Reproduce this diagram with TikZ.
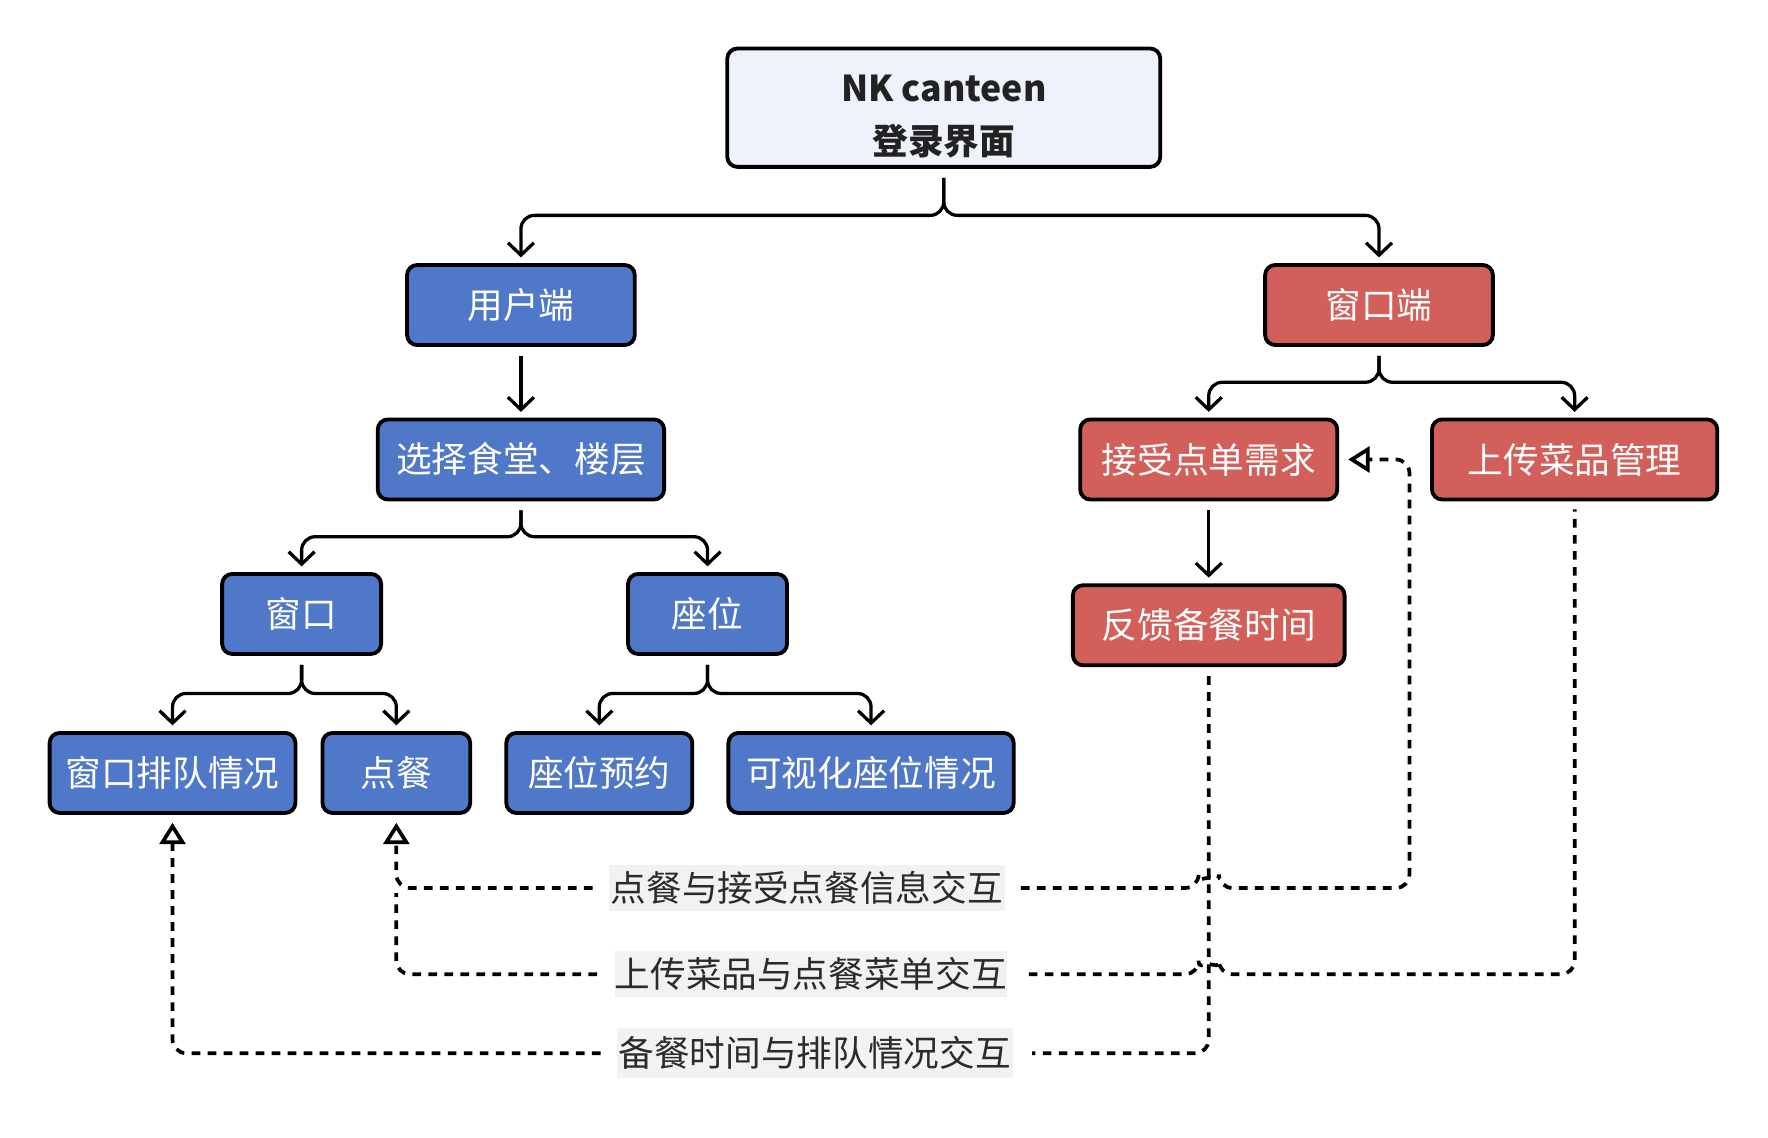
\documentclass[tikz,border=0pt]{standalone}
\usepackage{fontspec}
\setmainfont{Noto Sans CJK SC}
\usetikzlibrary{arrows.meta,calc}
\definecolor{ublue}{HTML}{5078C8}
\definecolor{wred}{HTML}{D35F5A}
\definecolor{topfill}{HTML}{EEF2FB}
\definecolor{lblbg}{HTML}{F1F2F4}
\definecolor{lbltext}{HTML}{2B2B2B}
\definecolor{toptext}{HTML}{222222}
\tikzset{
 box/.style={draw=black, line width=1.7pt, rounded corners=4.5pt, minimum height=35.5pt, inner sep=0pt, text=white, font=\fontsize{15.8}{19}\selectfont},
 ubox/.style={box, fill=ublue},
 wbox/.style={box, fill=wred},
 lbl/.style={fill=lblbg, text=lbltext, inner sep=0pt, minimum height=20.5pt, font=\fontsize{15.8}{19}\selectfont},
 conn/.style={line width=1.45pt, rounded corners=6pt, -{Straight Barb[length=5.5pt,width=11.5pt]}, shorten <=4pt, shorten >=2.5pt},
 dsh/.style={line width=1.65pt, dash pattern=on 3.85pt off 3.25pt, rounded corners=6pt},
 dtip/.style={-{Triangle[open,length=9.5pt,width=11.5pt]}},
}
\begin{document}
\begin{tikzpicture}[x=0.5pt,y=-0.5pt]
\useasboundingbox (0,0) rectangle (1568,1009);
% nodes
\node[box, fill=topfill, minimum width=192pt, minimum height=52.5pt] (top) at (837,95.5) {};
\node[align=center, text=toptext, inner sep=0pt, font=\fontsize{15.8}{23.5}\selectfont\bfseries] (toptxt) at (837,103.5) {NK canteen\\登录界面};
\node[ubox, minimum width=101pt] (user) at (462,270.5) {用户端};
\node[wbox, minimum width=101pt] (wend) at (1223,270.5) {窗口端};
\node[ubox, minimum width=127pt] (sel) at (462,407.5) {选择食堂、楼层};
\node[ubox, minimum width=70.5pt] (win) at (267.5,544.5) {窗口};
\node[ubox, minimum width=70.5pt] (seat) at (627.5,544.5) {座位};
\node[ubox, minimum width=109pt] (queue) at (153,685.5) {窗口排队情况};
\node[ubox, minimum width=65.5pt] (order) at (351.5,685.5) {点餐};
\node[ubox, minimum width=82.5pt] (resv) at (531.5,685.5) {座位预约};
\node[ubox, minimum width=126.5pt] (vis) at (772.5,685.5) {可视化座位情况};
\node[wbox, minimum width=114pt] (acc) at (1072,407.5) {接受点单需求};
\node[wbox, minimum width=126.5pt] (upl) at (1396.5,407.5) {上传菜品管理};
\node[wbox, minimum width=120.5pt] (fb) at (1072,554.5) {反馈备餐时间};
\node[lbl, minimum width=175.5pt] (l1) at (715.5,787.5) {点餐与接受点餐信息交互};
\node[lbl, minimum width=174pt] (l2) at (719,864) {上传菜品与点餐菜单交互};
\node[lbl, minimum width=175.5pt, minimum height=22pt] (l3) at (722.5,934) {备餐时间与排队情况交互};
% solid connectors
\coordinate (b1) at (837,191);
\draw[conn] (top.south) -- (b1) -| (user.north);
\draw[conn] (top.south) -- (b1) -| (wend.north);
\draw[conn] (user.south) -- (sel.north);
\coordinate (b2) at (462,476);
\draw[conn] (sel.south) -- (b2) -| (win.north);
\draw[conn] (sel.south) -- (b2) -| (seat.north);
\coordinate (b3) at (267.5,615);
\draw[conn] (win.south) -- (b3) -| (queue.north);
\draw[conn] (win.south) -- (b3) -| (order.north);
\coordinate (b4) at (627.5,615);
\draw[conn] (seat.south) -- (b4) -| (resv.north);
\draw[conn] (seat.south) -- (b4) -| (vis.north);
\coordinate (b5) at (1223,339);
\draw[conn] (wend.south) -- (b5) -| (acc.north);
\draw[conn] (wend.south) -- (b5) -| (upl.north);
\draw[conn] (acc.south) -- (fb.north);
% dashed connectors
\draw[dsh, dtip, shorten <=7pt, shorten >=3.5pt] (l1.west) -- (l1.west -| order.south) -- (order.south);
\draw[dsh, dtip, shorten <=7pt, shorten >=4pt] (l1.east) -- (1063,787.5) arc[start angle=180,end angle=360,radius=9] -- (1250,787.5) -- (1250,407.5) -- (acc.east);
\draw[dsh, shorten <=9.5pt, shorten >=3.5pt] (l2.east) -- (1063,864) arc[start angle=180,end angle=360,radius=9] -- (1396.5,864) -- (upl.south);
\draw[dsh, shorten <=7.5pt] (l2.west) -- (351.5,864) -- (351.5,792);
\draw[dsh, shorten <=4pt, shorten >=8.5pt] (fb.south) -- (fb.south |- l3.east) -- (l3.east);
\draw[dsh, dtip, shorten <=7pt, shorten >=3.5pt] (l3.west) -- (l3.west -| queue.south) -- (queue.south);
\end{tikzpicture}
\end{document}
